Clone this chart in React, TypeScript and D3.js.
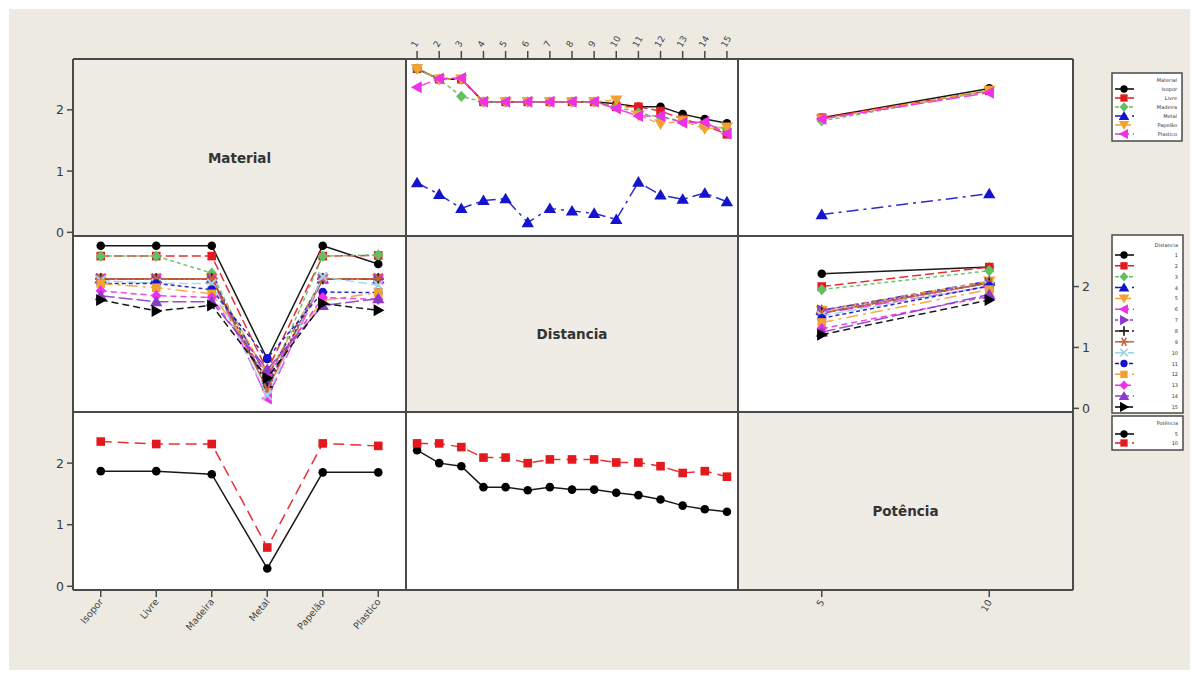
import React from "react";
import * as d3 from "d3";

// ---------- data ----------
const materials = ["Isopor", "Livre", "Madeira", "Metal", "Papelão", "Plastico"];
const distances = ["1", "2", "3", "4", "5", "6", "7", "8", "9", "10", "11", "12", "13", "14", "15"];
const potencias = ["5", "10"];
const yTicks = [0, 1, 2];

// Mean response by Material across Distancia 1..15
const isoporByDist = [2.67, 2.5, 2.5, 2.13, 2.13, 2.13, 2.13, 2.13, 2.13, 2.1, 2.05, 2.05, 1.93, 1.85, 1.78];
const livreByDist = [2.67, 2.5, 2.5, 2.13, 2.13, 2.13, 2.13, 2.13, 2.13, 2.05, 2.05, 1.98, 1.85, 1.75, 1.6];
const madeiraByDist = [2.67, 2.5, 2.22, 2.13, 2.13, 2.13, 2.13, 2.13, 2.13, 2.05, 1.95, 1.88, 1.82, 1.75, 1.69];
const metalByDist = [0.81, 0.62, 0.39, 0.52, 0.55, 0.16, 0.39, 0.35, 0.31, 0.21, 0.82, 0.61, 0.54, 0.64, 0.5];
const papelaoByDist = [2.67, 2.5, 2.5, 2.13, 2.13, 2.13, 2.13, 2.13, 2.13, 2.16, 1.91, 1.77, 1.82, 1.69, 1.72];
const plasticoByDist = [2.37, 2.51, 2.52, 2.13, 2.13, 2.13, 2.13, 2.13, 2.13, 2.02, 1.9, 1.9, 1.79, 1.8, 1.61];

// Mean response by Potência across Distancia 1..15
const pot5ByDist = [2.21, 2.0, 1.95, 1.61, 1.61, 1.56, 1.61, 1.57, 1.57, 1.52, 1.48, 1.41, 1.31, 1.25, 1.21];
const pot10ByDist = [2.32, 2.32, 2.26, 2.09, 2.09, 2.0, 2.06, 2.06, 2.06, 2.01, 2.01, 1.95, 1.84, 1.87, 1.78];

// Mean response by Potência across Material
const pot5ByMat = [1.87, 1.87, 1.82, 0.29, 1.85, 1.85];
const pot10ByMat = [2.35, 2.31, 2.31, 0.63, 2.32, 2.28];

const matByDist = [isoporByDist, livreByDist, madeiraByDist, metalByDist, papelaoByDist, plasticoByDist];
const potByDist = [pot5ByDist, pot10ByDist];
const potByMat = [pot5ByMat, pot10ByMat];

// ---------- styles ----------
const matStyle = [
  { color: "#000000", shape: "circle", dash: "" },
  { color: "#e3191e", shape: "square", dash: "9,4" },
  { color: "#62bf62", shape: "diamond", dash: "4,3" },
  { color: "#1414cc", shape: "triUp", dash: "12,5,3,5" },
  { color: "#f2a230", shape: "triDown", dash: "6,4" },
  { color: "#ee30e6", shape: "triLeft", dash: "14,4" },
];
const distStyle = [
  { color: "#000000", shape: "circle", dash: "" },
  { color: "#e3191e", shape: "square", dash: "9,4" },
  { color: "#62bf62", shape: "diamond", dash: "4,3" },
  { color: "#1414cc", shape: "triUp", dash: "12,5,3,5" },
  { color: "#f2a230", shape: "triDown", dash: "6,4" },
  { color: "#ee30e6", shape: "triLeft", dash: "14,4" },
  { color: "#8a3cc8", shape: "triRight", dash: "3,2" },
  { color: "#222222", shape: "plus", dash: "9,3,2,3" },
  { color: "#c8643c", shape: "asterisk", dash: "" },
  { color: "#9fd3e6", shape: "cross", dash: "9,4" },
  { color: "#1414cc", shape: "circle", dash: "4,3" },
  { color: "#f2a230", shape: "square", dash: "12,5,3,5" },
  { color: "#ee30e6", shape: "diamond", dash: "6,4" },
  { color: "#8a3cc8", shape: "triUp", dash: "14,4" },
  { color: "#000000", shape: "triRight", dash: "7,4" },
];
const potStyle = [
  { color: "#000000", shape: "circle", dash: "" },
  { color: "#e3191e", shape: "square", dash: "11,6" },
];

// ---------- layout ----------
const W = 1199;
const H = 679;
const colX = [73, 406, 738, 1073];
const rowY = [59, 236, 412, 590];
const FONT = "DejaVu Sans, Verdana, sans-serif";
const BG = "#edeae2";
const DIAG = "#efece6";
const BORDER = "#4a4a4a";

const yScale = (row: number) =>
  d3.scaleLinear().domain([-0.06, 2.83]).range([rowY[row + 1], rowY[row]]);
const xScale = (col: number, cats: string[]) =>
  d3.scalePoint<string>().domain(cats).range([colX[col], colX[col + 1]]).padding(0.5);

function Marker({ shape, x, y, color, s = 1 }: { shape: string; x: number; y: number; color: string; s?: number }) {
  const t = `translate(${x},${y}) scale(${s})`;
  switch (shape) {
    case "circle":
      return <circle transform={t} r={4.3} fill={color} />;
    case "square":
      return <rect transform={t} x={-4.3} y={-4.3} width={8.6} height={8.6} fill={color} />;
    case "diamond":
      return <path transform={t} d="M0,-5.6L5.2,0L0,5.6L-5.2,0Z" fill={color} />;
    case "triUp":
      return <path transform={t} d="M0,-6L6.2,4.6L-6.2,4.6Z" fill={color} />;
    case "triDown":
      return <path transform={t} d="M0,6L6.2,-4.6L-6.2,-4.6Z" fill={color} />;
    case "triLeft":
      return <path transform={t} d="M-6.2,0L4.6,-6L4.6,6Z" fill={color} />;
    case "triRight":
      return <path transform={t} d="M6.2,0L-4.6,-6L-4.6,6Z" fill={color} />;
    case "plus":
      return <path transform={t} d="M-5.5,0H5.5M0,-5.5V5.5" stroke={color} strokeWidth={2} fill="none" />;
    case "cross":
      return <path transform={t} d="M-4.5,-4.5L4.5,4.5M-4.5,4.5L4.5,-4.5" stroke={color} strokeWidth={2} fill="none" />;
    case "asterisk":
      return (
        <path
          transform={t}
          d="M-5.5,0H5.5M-2.75,-4.76L2.75,4.76M-2.75,4.76L2.75,-4.76"
          stroke={color}
          strokeWidth={1.8}
          fill="none"
        />
      );
    default:
      return null;
  }
}

type Series = { values: number[]; color: string; shape: string; dash: string };

function Panel({ col, row, cats, series }: { col: number; row: number; cats: string[]; series: Series[] }) {
  const x = xScale(col, cats);
  const y = yScale(row);
  const line = d3
    .line<number>()
    .x((_, i) => x(cats[i]) as number)
    .y((v) => y(v));
  return (
    <g>
      <rect x={colX[col]} y={rowY[row]} width={colX[col + 1] - colX[col]} height={rowY[row + 1] - rowY[row]} fill="#ffffff" />
      {series.map((s, si) => (
        <g key={si}>
          <path d={line(s.values) || ""} fill="none" stroke={s.color} strokeWidth={1.5} strokeDasharray={s.dash} opacity={0.9} />
          {s.values.map((v, i) => (
            <Marker key={i} shape={s.shape} x={x(cats[i]) as number} y={y(v)} color={s.color} />
          ))}
        </g>
      ))}
    </g>
  );
}

function DiagPanel({ col, row, label }: { col: number; row: number; label: string }) {
  const cx = (colX[col] + colX[col + 1]) / 2;
  const cy = (rowY[row] + rowY[row + 1]) / 2;
  return (
    <g>
      <rect x={colX[col]} y={rowY[row]} width={colX[col + 1] - colX[col]} height={rowY[row + 1] - rowY[row]} fill={DIAG} />
      <text x={cx} y={cy + 15} textAnchor="middle" fontFamily={FONT} fontSize={13.5} fontWeight="bold" fill="#333">
        {label}
      </text>
    </g>
  );
}

function YAxis({ row, side }: { row: number; side: "left" | "right" }) {
  const y = yScale(row);
  const x0 = side === "left" ? colX[0] : colX[3];
  const dir = side === "left" ? -1 : 1;
  return (
    <g>
      {yTicks.map((t) => (
        <g key={t}>
          <line x1={x0} x2={x0 + dir * 6} y1={y(t)} y2={y(t)} stroke={BORDER} strokeWidth={1.5} />
          <text
            x={x0 + dir * 9}
            y={y(t) + 4.5}
            textAnchor={side === "left" ? "end" : "start"}
            fontFamily={FONT}
            fontSize={12.5}
            fill="#3a3a3a"
          >
            {t}
          </text>
        </g>
      ))}
    </g>
  );
}

function Legend({
  title,
  labels,
  styles,
  x0,
  x1,
  top,
  bottom,
  titleY,
  firstY,
  step,
}: {
  title: string;
  labels: string[];
  styles: { color: string; shape: string; dash: string }[];
  x0: number;
  x1: number;
  top: number;
  bottom: number;
  titleY: number;
  firstY: number;
  step: number;
}) {
  return (
    <g>
      <rect x={x0} y={top} width={x1 - x0} height={bottom - top} fill="#ffffff" stroke={BORDER} strokeWidth={1.5} />
      <text x={x1 - 5} y={titleY + 2} textAnchor="end" fontFamily={FONT} fontSize={5} fill="#333">
        {title}
      </text>
      {labels.map((l, i) => {
        const yy = firstY + i * step;
        const st = styles[i];
        return (
          <g key={l}>
            <line x1={x0 + 3} x2={x0 + 22} y1={yy} y2={yy} stroke={st.color} strokeWidth={1.5} strokeDasharray={st.dash} />
            <Marker shape={st.shape} x={x0 + 12} y={yy} color={st.color} s={0.85} />
            <text x={x1 - 5} y={yy + 2} textAnchor="end" fontFamily={FONT} fontSize={5} fill="#333">
              {l}
            </text>
          </g>
        );
      })}
    </g>
  );
}

export default function App() {
  const matSeriesOverDist: Series[] = materials.map((_, m) => ({ values: matByDist[m], ...matStyle[m] }));
  const matSeriesOverPot: Series[] = materials.map((_, m) => ({
    values: [potByMat[0][m], potByMat[1][m]],
    ...matStyle[m],
  }));
  const distSeriesOverMat: Series[] = distances.map((_, d) => ({
    values: materials.map((__, m) => matByDist[m][d]),
    ...distStyle[d],
  }));
  const distSeriesOverPot: Series[] = distances.map((_, d) => ({
    values: [potByDist[0][d], potByDist[1][d]],
    ...distStyle[d],
  }));
  const potSeriesOverMat: Series[] = potencias.map((_, p) => ({ values: potByMat[p], ...potStyle[p] }));
  const potSeriesOverDist: Series[] = potencias.map((_, p) => ({ values: potByDist[p], ...potStyle[p] }));

  const xMat = xScale(0, materials);
  const xDist = xScale(1, distances);
  const xPot = xScale(2, potencias);

  return (
    <svg
      width={W}
      height={H}
      style={{ position: "absolute", left: 0, top: 0, display: "block" }}
      xmlns="http://www.w3.org/2000/svg"
    >
      <rect x={0} y={0} width={W} height={H} fill="#ffffff" />
      <rect x={9} y={9} width={W - 18} height={H - 18} fill={BG} />

      {/* row 0 */}
      <DiagPanel col={0} row={0} label="Material" />
      <Panel col={1} row={0} cats={distances} series={matSeriesOverDist} />
      <Panel col={2} row={0} cats={potencias} series={matSeriesOverPot} />
      {/* row 1 */}
      <Panel col={0} row={1} cats={materials} series={distSeriesOverMat} />
      <DiagPanel col={1} row={1} label="Distancia" />
      <Panel col={2} row={1} cats={potencias} series={distSeriesOverPot} />
      {/* row 2 */}
      <Panel col={0} row={2} cats={materials} series={potSeriesOverMat} />
      <Panel col={1} row={2} cats={distances} series={potSeriesOverDist} />
      <DiagPanel col={2} row={2} label="Potência" />

      {/* grid borders */}
      {colX.map((x, i) => (
        <line key={"v" + i} x1={x} x2={x} y1={rowY[0]} y2={rowY[3]} stroke={BORDER} strokeWidth={2} />
      ))}
      {rowY.map((y, i) => (
        <line key={"h" + i} x1={colX[0]} x2={colX[3]} y1={y} y2={y} stroke={BORDER} strokeWidth={2} />
      ))}

      {/* axes */}
      <YAxis row={0} side="left" />
      <YAxis row={2} side="left" />
      <YAxis row={1} side="right" />

      {/* top axis: Distancia */}
      {distances.map((d) => {
        const x = xDist(d) as number;
        return (
          <g key={d}>
            <line x1={x} x2={x} y1={rowY[0]} y2={rowY[0] - 8} stroke={BORDER} strokeWidth={1.5} />
            <text
              transform={`translate(${x - 1},${rowY[0] - 11}) rotate(-60)`}
              fontFamily={FONT}
              fontSize={9}
              fill="#444"
            >
              {d}
            </text>
          </g>
        );
      })}

      {/* bottom axis: Material */}
      {materials.map((m) => {
        const x = xMat(m) as number;
        return (
          <g key={m}>
            <line x1={x} x2={x} y1={rowY[3]} y2={rowY[3] + 7} stroke={BORDER} strokeWidth={1.5} />
            <text
              transform={`translate(${x + 3},${rowY[3] + 12}) rotate(-50)`}
              textAnchor="end"
              fontFamily={FONT}
              fontSize={9.5}
              fill="#444"
            >
              {m}
            </text>
          </g>
        );
      })}

      {/* bottom axis: Potência */}
      {potencias.map((p) => {
        const x = xPot(p) as number;
        return (
          <g key={p}>
            <line x1={x} x2={x} y1={rowY[3]} y2={rowY[3] + 7} stroke={BORDER} strokeWidth={1.5} />
            <text
              transform={`translate(${x + 3},${rowY[3] + 12}) rotate(-60)`}
              textAnchor="end"
              fontFamily={FONT}
              fontSize={9.5}
              fill="#444"
            >
              {p}
            </text>
          </g>
        );
      })}

      {/* legends */}
      <Legend
        title="Material"
        labels={materials}
        styles={matStyle}
        x0={1112}
        x1={1182}
        top={73}
        bottom={141}
        titleY={80}
        firstY={89}
        step={9}
      />
      <Legend
        title="Distancia"
        labels={distances}
        styles={distStyle}
        x0={1112}
        x1={1183}
        top={235}
        bottom={413}
        titleY={245}
        firstY={255}
        step={10.85}
      />
      <Legend
        title="Potência"
        labels={potencias}
        styles={potStyle}
        x0={1112}
        x1={1183}
        top={416}
        bottom={450}
        titleY={423}
        firstY={434}
        step={9}
      />
    </svg>
  );
}
